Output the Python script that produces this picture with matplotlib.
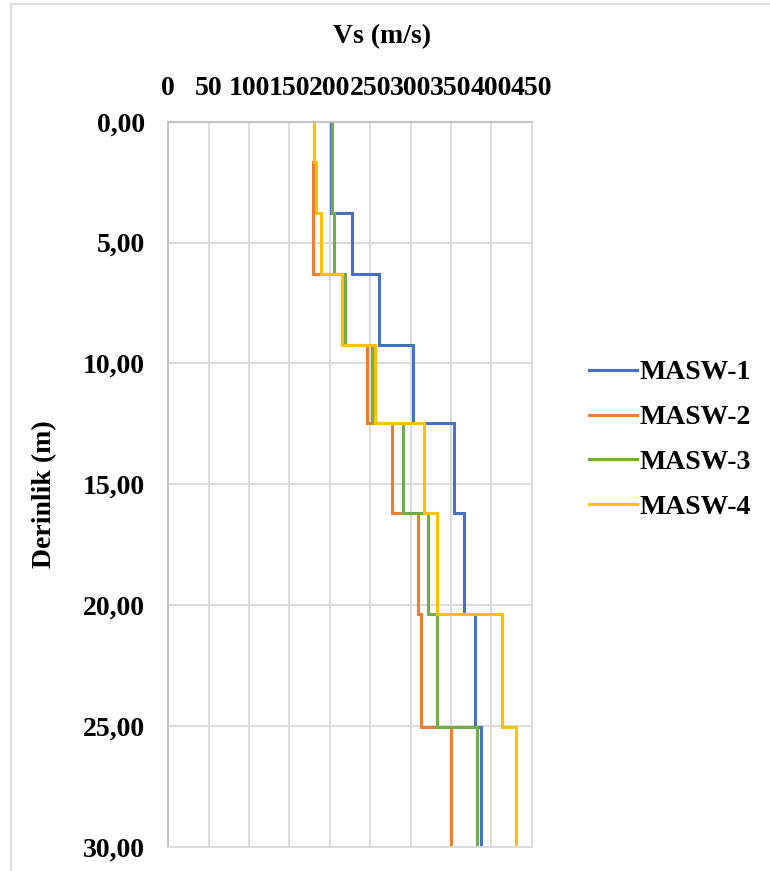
import numpy as np
import matplotlib.pyplot as plt
from matplotlib.patches import Rectangle

# layer boundaries (m) shared by all profiles
depth_bounds = [0, 1.65, 3.77, 6.30, 9.25, 12.48, 16.20, 20.37, 25.03, 30.0]

# shear wave velocity of each layer (m/s)
masw1 = [201.5, 201.5, 228.0, 260.6, 302.7, 353.2, 366.7, 379.6, 387.8]
masw2 = [180.5, 179.5, 179.5, 214.8, 246.6, 276.7, 309.0, 313.0, 350.2]
masw3 = [203.3, 203.3, 204.9, 218.9, 252.3, 291.2, 322.1, 332.9, 382.4]
masw4 = [180.5, 183.0, 188.8, 214.8, 256.1, 316.8, 332.9, 413.0, 430.8]

series = {"MASW-1": masw1, "MASW-2": masw2, "MASW-3": masw3, "MASW-4": masw4}
colors = ["#4472C4", "#ED7D31", "#70AD47", "#FFC000"]

x_ticks = list(range(0, 451, 50))
y_ticks = [0, 5, 10, 15, 20, 25, 30]
y_labels = ["0,00", "5,00", "10,00", "15,00", "20,00", "25,00", "30,00"]

plt.rcParams["font.family"] = ["Liberation Serif", "DejaVu Serif"]
plt.rcParams["font.weight"] = "bold"
FS = 20

W, H = 770, 871
fig = plt.figure(figsize=(W / 100, H / 100), dpi=100)

# chart frame
fig.patches.append(Rectangle((11 / W, -0.1), 1.2, 1 - 4 / H + 0.1,
                             transform=fig.transFigure, fill=False,
                             edgecolor="#d9d9d9", linewidth=1.2))

ax = fig.add_axes([168.3 / W, 1 - 846.7 / H, 363.4 / W, 725 / H])


def profile(vals):
    # turn layer values into a stepped (velocity, depth) line
    v = np.repeat(vals, 2)
    d = np.repeat(depth_bounds, 2)[1:-1]
    return v, d


for (name, vals), c in zip(series.items(), colors):
    v, d = profile(vals)
    ax.plot(v, d, color=c, linewidth=2.2, label=name, solid_joinstyle="miter")

ax.set_xlim(0, 450)
ax.set_ylim(30, 0)
ax.set_xticks(x_ticks)
ax.set_yticks(y_ticks)
ax.set_yticklabels(y_labels)
ax.xaxis.tick_top()
ax.tick_params(axis="both", length=0, labelsize=FS)
ax.tick_params(axis="x", pad=15)
ax.tick_params(axis="y", pad=17)
ax.grid(True, color="#d9d9d9", linewidth=1.3)
ax.set_axisbelow(True)
for s in ax.spines.values():
    s.set_color("#d9d9d9")
    s.set_linewidth(1.3)
ax.spines["top"].set_color("#bfbfbf")
ax.spines["left"].set_color("#bfbfbf")

fig.text(382 / W, 1 - 37 / H, "Vs (m/s)", ha="center", va="center",
         fontsize=FS, fontweight="bold")
fig.text(45 / W, 1 - 494 / H, "Derinlik (m)", ha="center", va="center",
         rotation=90, fontsize=FS, fontweight="bold")

fig.legend(loc="center left", bbox_to_anchor=(589 / W, 1 - 440 / H),
           frameon=False, fontsize=FS, handlelength=1.73,
           handletextpad=0.1, labelspacing=0.7, borderpad=0,
           borderaxespad=0)

fig.savefig("out.png", dpi=100)
